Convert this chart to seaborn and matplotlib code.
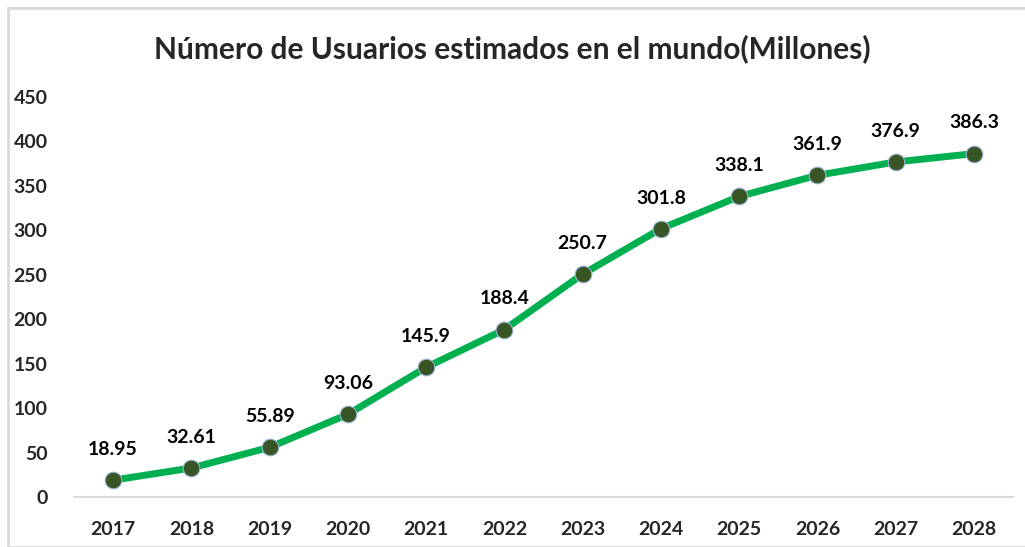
import matplotlib
matplotlib.use("Agg")
import matplotlib.pyplot as plt
import seaborn as sns
import pandas as pd
from matplotlib.patches import Rectangle

# Data
years = ["2017", "2018", "2019", "2020", "2021", "2022",
         "2023", "2024", "2025", "2026", "2027", "2028"]
users = [18.95, 32.61, 55.89, 93.06, 145.9, 188.4,
         250.7, 301.8, 338.1, 361.9, 376.9, 386.3]
labels = ["18.95", "32.61", "55.89", "93.06", "145.9", "188.4",
          "250.7", "301.8", "338.1", "361.9", "376.9", "386.3"]
yticks = [0, 50, 100, 150, 200, 250, 300, 350, 400, 450]

df = pd.DataFrame({"pos": range(len(years)), "users": users})

sns.set_style("white")
plt.rcParams["font.family"] = ["Lato", "DejaVu Sans"]
plt.rcParams["font.weight"] = "bold"

fig = plt.figure(figsize=(10.25, 5.47), dpi=100)
ax = fig.add_axes([74 / 1025, 50 / 547, 939 / 1025, 400 / 547])

sns.lineplot(data=df, x="pos", y="users", ax=ax, color="#00B050",
             linewidth=5, marker="o", markersize=12,
             markerfacecolor="#375623", markeredgecolor="#9DB3D9",
             markeredgewidth=0.8, zorder=3)

for x, y, t in zip(df["pos"], users, labels):
    ax.annotate(t, (x, y), xytext=(0, 16), textcoords="offset points",
                ha="center", va="bottom", fontsize=14, fontweight="bold",
                color="#000000")

ax.set_xlim(-0.5, len(years) - 0.5)
ax.set_ylim(0, 450)
ax.set_xticks(range(len(years)))
ax.set_xticklabels(years)
ax.set_yticks(yticks)
ax.tick_params(axis="x", length=0, pad=17, labelsize=14)
ax.tick_params(axis="y", length=0, pad=19, labelsize=14)
for lab in ax.get_xticklabels() + ax.get_yticklabels():
    lab.set_fontweight("bold")
ax.set_xlabel("")
ax.set_ylabel("")

for s in ["top", "right", "left"]:
    ax.spines[s].set_visible(False)
ax.spines["bottom"].set_color("#D9D9D9")
ax.spines["bottom"].set_linewidth(1.5)

fig.text(0.5, 0.911, "Número de Usuarios estimados en el mundo(Millones)",
         ha="center", va="center", fontsize=21.5, fontweight="bold")

fig.patches.append(Rectangle((8 / 1025, 0), 1.2, (547 - 8) / 547,
                             transform=fig.transFigure, fill=False,
                             edgecolor="#D9D9D9", linewidth=2))

fig.savefig("out.png", dpi=100)
